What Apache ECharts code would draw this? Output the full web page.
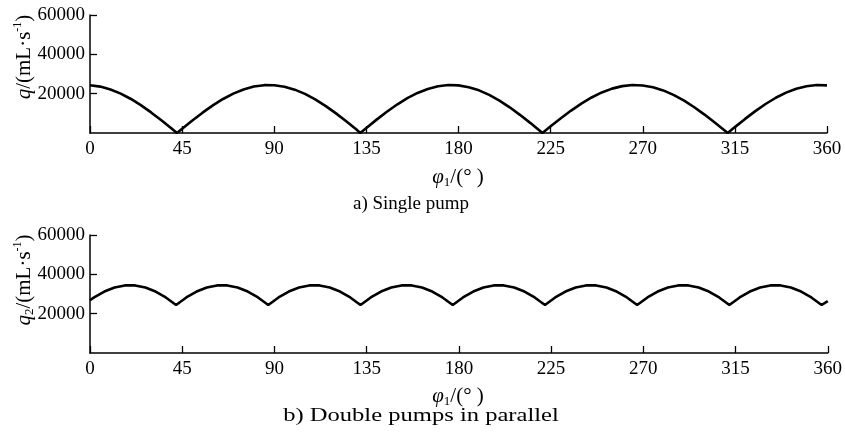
<!DOCTYPE html>
<html>
<head>
<meta charset="utf-8">
<script src="https://cdn.jsdelivr.net/npm/echarts@6/dist/echarts.min.js"></script>
<style>
html,body{margin:0;padding:0;background:#fff;}
#main{width:845px;height:440px;}
</style>
</head>
<body>
<div id="main"></div>
<script>
// ---- data ----
var xTicks = [0, 45, 90, 135, 180, 225, 270, 315, 360];
var yTicks = [20000, 40000, 60000];

// a) Single pump
var phiSingle = [0,5,10,15,20,25,30,35,40,42.5,45,50,55,60,65,70,75,80,85,90,95,100,105,110,115,120,125,130,132,
  135,140,145,150,155,160,165,170,175,180,185,190,195,200,205,210,215,220,221,
  225,230,235,240,245,250,255,260,265,270,275,280,285,290,295,300,305,310,311.5,
  315,320,325,330,335,340,345,350,355,360];
var qSingle = [24300,23600,22150,20030,17300,14040,10340,6330,2130,0,2130,6330,10340,14040,17300,20030,22150,23600,24320,24300,23530,22040,19890,17120,13820,10110,6090,1880,0,
  2580,6800,10810,14480,17700,20370,22410,23760,24370,24210,23310,21680,19380,16480,13070,9240,5160,870,0,
  3380,7500,11400,14960,18060,20620,22560,23830,24380,24190,23280,21660,19410,16580,13220,9490,5450,1280,0,
  2990,7170,11130,14750,17920,20530,22530,23810,24380,24200];

// b) Double pumps in parallel
var phiDouble = [0,2,7,12,17,22,27,32,37,42,47,52,57,62,67,72,77,82,87,92,97,102,107,112,117,122,127,132,
  137,142,147,152,157,162,167,172,177,182,187,192,197,202,207,212,217,222,227,232,237,242,247,252,257,262,267,
  272,277,282,287,292,297,302,307,312,317,322,327,332,337,342,347,352,357,360];
var qDouble = [26800,28260,31270,33320,34370,34370,33320,31270,28260,24400,28260,31270,33320,34370,34370,33320,31270,28260,24400,
  28260,31270,33320,34370,34370,33320,31270,28260,24400,28260,31270,33320,34370,34370,33320,31270,28260,24400,
  28260,31270,33320,34370,34370,33320,31270,28260,24400,28260,31270,33320,34370,34370,33320,31270,28260,24400,
  28260,31270,33320,34370,34370,33320,31270,28260,24400,28260,31270,33320,34370,34370,33320,31270,28260,24400,26400];

var captionA = 'a) Single pump';
var captionB = 'b) Double pumps in parallel';

// ---- chart ----
var FONT = '"Liberation Serif","Times New Roman",serif';
var FS = 19;
function pairs(xs, ys){ return xs.map(function(x,i){ return [x, ys[i]]; }); }

function xAxisCfg(gi){
  return {
    type:'value', gridIndex:gi, min:0, max:360, interval:45,
    axisLine:{show:true, onZero:false, lineStyle:{color:'#000', width:1.5}},
    axisTick:{show:true, inside:true, length:7, lineStyle:{color:'#000', width:1.3}},
    axisLabel:{color:'#000', fontFamily:FONT, fontSize:FS, margin:7,
      formatter:function(v){ return xTicks.indexOf(v) >= 0 ? String(v) : ''; }},
    splitLine:{show:false}
  };
}
function yAxisCfg(gi){
  return {
    type:'value', gridIndex:gi, min:0, max:60000, interval:20000,
    axisLine:{show:true, lineStyle:{color:'#000', width:1.5}},
    axisTick:{show:true, inside:true, length:7, lineStyle:{color:'#000', width:1.3}},
    axisLabel:{color:'#000', fontFamily:FONT, fontSize:FS, margin:5, showMinLabel:false,
      formatter:function(v){ return yTicks.indexOf(v) >= 0 ? String(v) : ''; }},
    splitLine:{show:false}
  };
}

function makeRich(fs){
  return {
    i:{fontFamily:FONT, fontSize:fs, fontStyle:'italic', color:'#000'},
    n:{fontFamily:FONT, fontSize:fs, color:'#000'},
    sup:{fontFamily:FONT, fontSize:Math.round(fs*0.58), color:'#000', verticalAlign:'top'},
    sub:{fontFamily:FONT, fontSize:Math.round(fs*0.62), color:'#000', verticalAlign:'bottom'}
  };
}

function txt(x, y, text, fs, rot, sx){
  return {type:'text', x:x, y:y, rotation:rot||0, scaleX:sx||1, silent:true,
    style:{text:text, rich:makeRich(fs), fontFamily:FONT, fontSize:fs, fill:'#000', align:'center', verticalAlign:'middle', lineHeight:Math.round(fs*1.15)}};
}

var chart = echarts.init(document.getElementById('main'), null, {renderer:'canvas'});
chart.setOption({
  animation:false,
  backgroundColor:'#fff',
  grid:[
    {left:90, top:15, width:737, height:118},
    {left:90, top:235, width:742, height:118}
  ],
  xAxis:[xAxisCfg(0), xAxisCfg(1)],
  yAxis:[yAxisCfg(0), yAxisCfg(1)],
  series:[
    {type:'line', xAxisIndex:0, yAxisIndex:0, data:pairs(phiSingle, qSingle), showSymbol:false, smooth:false,
      lineStyle:{color:'#000', width:2.6}},
    {type:'line', xAxisIndex:1, yAxisIndex:1, data:pairs(phiDouble, qDouble), showSymbol:false, smooth:false,
      lineStyle:{color:'#000', width:2.6}}
  ],
  graphic:[
    txt(24, 57, '{i|q}{n|/(mL·s}{sup|-1}{n|)}', 21, Math.PI/2),
    txt(24, 280, '{i|q}{sub|2}{n|/(mL·s}{sup|-1}{n|)}', 21, Math.PI/2),
    txt(458, 177, '{i|φ}{sub|1}{n|/(° )}', 21, 0),
    txt(458, 396, '{i|φ}{sub|1}{n|/(° )}', 21, 0),
    txt(411, 204, '{n|' + captionA + '}', 19, 0),
    txt(421, 416, '{n|' + captionB + '}', 19.5, 0, 1.26)
  ]
});
</script>
</body>
</html>
